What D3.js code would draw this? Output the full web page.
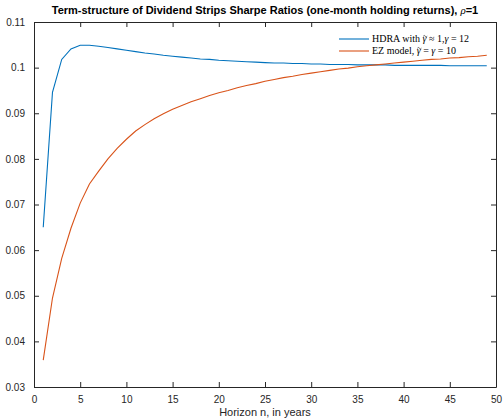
<!DOCTYPE html>
<html>
<head>
<meta charset="utf-8">
<script src="https://cdn.jsdelivr.net/npm/d3@7"></script>
<style>
  body { margin: 0; background: #fff; }
  svg { display: block; }
  .tick text { font-family: "Liberation Sans", Arial, sans-serif; font-size: 10px; fill: #262626; }
</style>
</head>
<body>
<div id="chart"></div>
<script>
// horizons (years) and Sharpe ratios
const horizons = d3.range(1, 50);
const hdraSharpe = [
  0.0650, 0.0946, 0.1018, 0.1041, 0.1049, 0.1049, 0.1047, 0.1044, 0.1041, 0.1038,
  0.1035, 0.1032, 0.1030, 0.1027, 0.1025, 0.1023, 0.1021, 0.1019, 0.1018, 0.1016,
  0.1015, 0.1014, 0.1013, 0.1012, 0.1011, 0.1010, 0.1010, 0.1009, 0.1009, 0.1008,
  0.1008, 0.1007, 0.1007, 0.1007, 0.1006, 0.1006, 0.1006, 0.1006, 0.1005, 0.1005,
  0.1005, 0.1005, 0.1005, 0.1005, 0.1004, 0.1004, 0.1004, 0.1004, 0.1004
];
const ezSharpe = [
  0.0359, 0.0495, 0.0582, 0.0648, 0.0703, 0.0745, 0.0773, 0.0800, 0.0823, 0.0843,
  0.0861, 0.0875, 0.0888, 0.0899, 0.0909, 0.0917, 0.0925, 0.0932, 0.0939, 0.0945,
  0.0950, 0.0956, 0.0961, 0.0965, 0.0970, 0.0974, 0.0978, 0.0981, 0.0985, 0.0988,
  0.0991, 0.0994, 0.0997, 0.0999, 0.1002, 0.1004, 0.1006, 0.1008, 0.1010, 0.1012,
  0.1014, 0.1016, 0.1018, 0.1019, 0.1021, 0.1022, 0.1024, 0.1025, 0.1027
];
const xTicks = d3.range(0, 51, 5);
const yTicks = [0.03, 0.04, 0.05, 0.06, 0.07, 0.08, 0.09, 0.1, 0.11];

const W = 504, H = 420;
const margin = {top: 22, right: 8, bottom: 33, left: 34};
const width = W - margin.left - margin.right;
const height = H - margin.top - margin.bottom;
const axisColor = "#262626";

const svg = d3.select("#chart").append("svg")
  .attr("width", W).attr("height", H);

const g = svg.append("g")
  .attr("transform", `translate(${margin.left},${margin.top})`);

const x = d3.scaleLinear().domain([0, 50]).range([0, width]);
const y = d3.scaleLinear().domain([0.03, 0.11]).range([height, 0]);

const fmt = d => String(+d.toFixed(2));

// axes with inward ticks, mirrored on top/right (box on)
function styleAxis(sel) {
  sel.select(".domain").attr("stroke", axisColor);
  sel.selectAll(".tick line").attr("stroke", axisColor);
}
g.append("g").attr("transform", `translate(0,${height})`)
  .call(d3.axisBottom(x).tickValues(xTicks).tickSizeInner(-5).tickSizeOuter(0).tickPadding(9).tickFormat(fmt))
  .call(styleAxis);
g.append("g")
  .call(d3.axisLeft(y).tickValues(yTicks).tickSizeInner(-5).tickSizeOuter(0).tickPadding(9).tickFormat(fmt))
  .call(styleAxis);
g.append("g")
  .call(d3.axisTop(x).tickValues(xTicks).tickSizeInner(-5).tickSizeOuter(0).tickFormat(""))
  .call(styleAxis);
g.append("g").attr("transform", `translate(${width},0)`)
  .call(d3.axisRight(y).tickValues(yTicks).tickSizeInner(-5).tickSizeOuter(0).tickFormat(""))
  .call(styleAxis);

const line = d3.line().x((d, i) => x(horizons[i])).y(d => y(d));

g.append("path").datum(hdraSharpe)
  .attr("fill", "none").attr("stroke", "#0072BD").attr("stroke-width", 1.1)
  .attr("d", line);
g.append("path").datum(ezSharpe)
  .attr("fill", "none").attr("stroke", "#D95319").attr("stroke-width", 1.1)
  .attr("d", line);

// title
const title = svg.append("text")
  .attr("x", margin.left + width / 2).attr("y", 14)
  .attr("text-anchor", "middle")
  .style("font-family", "Liberation Sans, Arial, sans-serif")
  .style("font-size", "11px").style("font-weight", "bold").style("fill", "#000");
title.append("tspan").text("Term-structure of Dividend Strips Sharpe Ratios (one-month holding returns), ");
title.append("tspan").text("ρ")
  .style("font-family", "Liberation Serif, serif").style("font-style", "italic").style("font-weight", "normal");
title.append("tspan").text("=1");

// x label
svg.append("text")
  .attr("x", margin.left + width / 2).attr("y", 416)
  .attr("text-anchor", "middle")
  .style("font-family", "Liberation Sans, Arial, sans-serif")
  .style("font-size", "11px").style("fill", axisColor)
  .text("Horizon n, in years");

// legend; parts are [text, italic, tilde-accent]
const legend = svg.append("g")
  .style("font-family", "Liberation Serif, 'Times New Roman', serif")
  .style("font-size", "10px").style("fill", "#000");
const entries = [
  {color: "#0072BD", y: 39, parts: [["HDRA with ", 0, 0], ["γ", 1, 1], [" ≈ 1,", 0, 0], ["γ", 1, 0], [" = 12", 0, 0]]},
  {color: "#D95319", y: 51, parts: [["EZ model, ", 0, 0], ["γ", 1, 1], [" = ", 0, 0], ["γ", 1, 0], [" = 10", 0, 0]]}
];
entries.forEach(e => {
  legend.append("line")
    .attr("x1", 339).attr("x2", 369).attr("y1", e.y).attr("y2", e.y)
    .attr("stroke", e.color).attr("stroke-width", 1.1);
  const base = e.y + 3.3;
  const t = legend.append("text").attr("x", 372).attr("y", base)
    .attr("xml:space", "preserve");
  let idx = 0;
  const accents = [];
  e.parts.forEach(p => {
    t.append("tspan").text(p[0]).style("font-style", p[1] ? "italic" : "normal");
    if (p[2]) accents.push(idx);
    idx += p[0].length;
  });
  // tilde accent drawn as a small path over the glyph
  accents.forEach(i => {
    const box = t.node().getExtentOfChar(i);
    const cx = box.x + box.width / 2 + 0.7, cy = base - 6.6;
    legend.append("path")
      .attr("d", `M${cx - 2},${cy + 0.5} q1,-1.4 2,0 t2,0`)
      .attr("fill", "none").attr("stroke", "#000").attr("stroke-width", 0.6);
  });
});
</script>
</body>
</html>
